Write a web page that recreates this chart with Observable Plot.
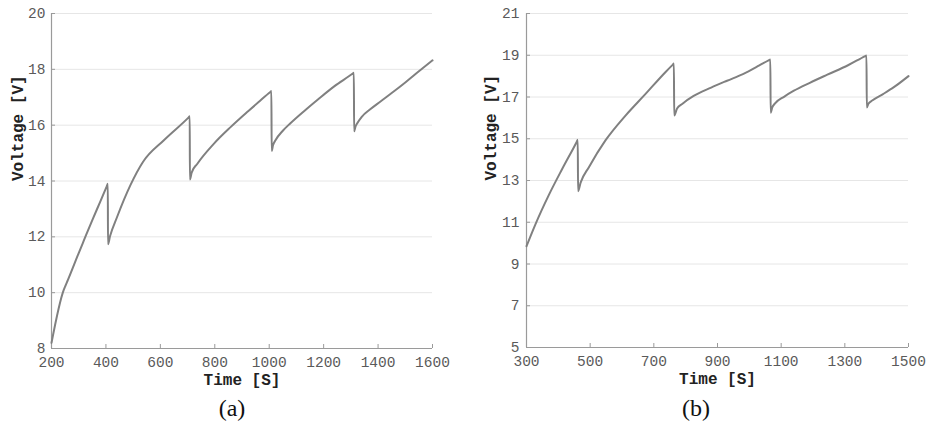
<!DOCTYPE html>
<html><head><meta charset="utf-8">
<script src="https://cdn.jsdelivr.net/npm/d3@7"></script>
<script src="https://cdn.jsdelivr.net/npm/@observablehq/plot@0.6"></script>
<style>
body{margin:0;background:#fff;}
#wrap{display:flex;width:928px;height:430px;overflow:hidden;}
.panel{width:464px;}
.cap{font-family:"Liberation Serif","DejaVu Serif",serif;font-size:24px;text-align:center;line-height:32px;color:#111;}
</style></head><body>
<div id="wrap"><div class="panel" id="pa"></div><div class="panel" id="pb"></div></div>
<script>
// Panel (a)
const timeA = [200, 245, 250, 260, 300, 319, 350, 380, 403, 407, 407.5, 415, 441, 490, 536, 613, 704, 708, 708.5, 715, 736, 797, 858, 919, 960, 1004, 1008, 1009, 1014, 1023, 1050, 1078, 1130, 1180, 1240, 1307, 1311, 1312, 1317, 1323, 1340, 1370, 1409, 1450, 1500, 1550, 1600];
const voltA = [8.2, 10.1, 10.22, 10.45, 11.42, 11.87, 12.6, 13.28, 13.81, 13.9, 11.73, 12.02, 12.71, 13.85, 14.68, 15.46, 16.28, 16.32, 14.05, 14.3, 14.62, 15.34, 15.93, 16.47, 16.82, 17.19, 17.22, 15.08, 15.28, 15.46, 15.8, 16.07, 16.52, 16.93, 17.4, 17.85, 17.88, 15.78, 15.95, 16.06, 16.3, 16.56, 16.85, 17.15, 17.53, 17.93, 18.32];
const xTicksA = [200, 400, 600, 800, 1000, 1200, 1400, 1600];
const yTicksA = [8, 10, 12, 14, 16, 18, 20];

// Panel (b)
const timeB = [300, 328, 370, 412, 458, 461, 462, 470, 496, 548, 611, 674, 737, 759, 763, 764, 773, 790, 825, 880, 930, 980, 1030, 1062, 1066, 1067, 1072, 1080, 1110, 1140, 1190, 1245, 1310, 1364, 1368, 1369, 1374, 1386, 1420, 1454, 1500];
const voltB = [9.85, 10.9, 12.3, 13.55, 14.86, 14.95, 12.49, 12.9, 13.64, 14.92, 16.11, 17.15, 18.2, 18.54, 18.6, 16.11, 16.45, 16.68, 17.05, 17.45, 17.78, 18.1, 18.5, 18.77, 18.8, 16.25, 16.5, 16.68, 17.02, 17.3, 17.68, 18.07, 18.52, 18.96, 18.99, 16.5, 16.68, 16.83, 17.14, 17.47, 18.0];
const xTicksB = [300, 500, 700, 900, 1100, 1300, 1500];
const yTicksB = [5, 7, 9, 11, 13, 15, 17, 19, 21];

const xTitle = "Time [S]";
const yTitle = "Voltage [V]";
const captions = ["(a)", "(b)"];

function panel(el, time, volt, xTicks, yTicks, ml, mr, mb, yPad, yTitleDx, caption) {
  const data = time.map((t, i) => ({t, v: volt[i]}));
  const xd = [xTicks[0], xTicks[xTicks.length - 1]];
  const yd = [yTicks[0], yTicks[yTicks.length - 1]];
  const axisColor = "#9a9a9a";
  const chart = Plot.plot({
    width: 464, height: 392,
    marginLeft: ml, marginRight: mr, marginTop: 13, marginBottom: mb,
    style: {fontFamily: "'Liberation Mono', 'DejaVu Sans Mono', monospace", fontSize: "14.5px", color: "#5a5a5a", background: "#fff"},
    x: {domain: xd, label: null},
    y: {domain: yd, label: null},
    marks: [
      Plot.gridY(yTicks, {stroke: "#e6e6e6", strokeOpacity: 1, strokeWidth: 1}),
      Plot.ruleY([yd[0]], {stroke: axisColor, strokeWidth: 1.2}),
      Plot.ruleX([xd[0]], {stroke: axisColor, strokeWidth: 1.2}),
      Plot.axisX({ticks: xTicks, tickSize: 4, dy: -4, tickFormat: () => "", stroke: axisColor}),
      Plot.axisY({ticks: yTicks, tickSize: 4, dx: 4, tickFormat: () => "", stroke: axisColor}),
      Plot.axisX({ticks: xTicks, tickSize: 0, tickPadding: 8, tickFormat: d => String(d)}),
      Plot.axisY({ticks: yTicks, tickSize: 0, tickPadding: yPad, tickFormat: d => String(d)}),
      Plot.line(data, {x: "t", y: "v", stroke: "#808080", strokeWidth: 2, curve: "monotone-x"}),
      Plot.text([xTitle], {text: d => d, frameAnchor: "bottom", dy: 36, fontWeight: "bold", fontSize: 16, fill: "#222"}),
      Plot.text([yTitle], {text: d => d, frameAnchor: "left", dx: yTitleDx, rotate: -90, fontWeight: "bold", fontSize: 16, fill: "#222"})
    ]
  });
  el.appendChild(chart);
  const c = document.createElement("div");
  c.className = "cap";
  c.textContent = caption;
  el.appendChild(c);
}

panel(document.getElementById("pa"), timeA, voltA, xTicksA, yTicksA, 51, 32, 44, 6, -34, captions[0]);
panel(document.getElementById("pb"), timeB, voltB, xTicksB, yTicksB, 62, 20, 45, 7, -36, captions[1]);
</script>
</body></html>
